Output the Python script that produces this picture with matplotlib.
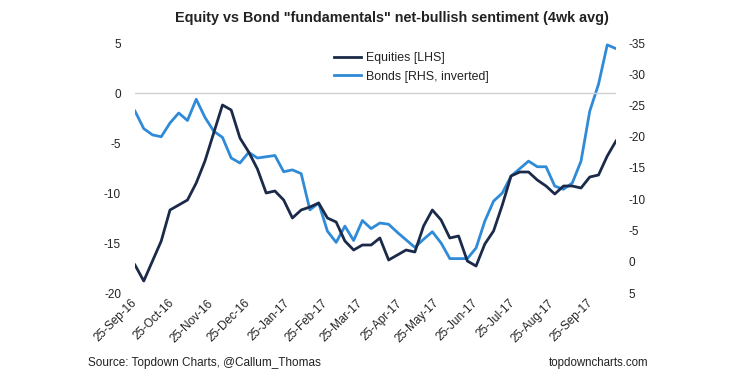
import pandas as pd
import matplotlib.pyplot as plt
import matplotlib.dates as mdates

plt.rcParams['font.family'] = ['Liberation Sans', 'DejaVu Sans']
plt.rcParams['axes.unicode_minus'] = False

# weekly readings, 4wk avg
dates = pd.date_range("2016-09-25", periods=56, freq="7D")

equities = [-17.2, -18.8, -16.8, -14.8, -11.7, -11.2, -10.7, -9.0, -6.8, -4.0,
            -1.2, -1.7, -4.5, -5.9, -7.6, -10.0, -9.8, -10.7, -12.5, -11.7,
            -11.4, -11.0, -12.5, -12.9, -14.8, -15.7, -15.2, -15.2, -14.5, -16.7,
            -16.2, -15.7, -15.9, -13.3, -11.7, -12.7, -14.5, -14.3, -16.8, -17.3,
            -15.1, -13.8, -11.2, -8.3, -7.9, -7.9, -8.7, -9.3, -10.1, -9.3,
            -9.3, -9.5, -8.4, -8.2, -6.3, -4.8]

bonds = [-24.1, -21.3, -20.3, -20.0, -22.2, -23.8, -22.6, -26.0, -23.1, -20.9,
         -19.9, -16.6, -15.8, -17.5, -16.6, -16.8, -17.0, -14.4, -14.7, -14.1,
         -8.3, -9.4, -4.9, -3.1, -5.7, -3.4, -6.6, -5.3, -6.2, -6.0,
         -4.7, -3.5, -2.3, -3.6, -4.8, -3.0, -0.5, -0.5, -0.5, -2.2,
         -6.5, -9.7, -11.0, -13.7, -14.9, -16.1, -15.2, -15.2, -12.1, -11.6,
         -12.6, -16.1, -24.1, -28.4, -34.7, -34.1]

tick_dates = pd.date_range("2016-09-01", "2017-09-01", freq="MS") + pd.Timedelta(days=24)
left_ticks = [-20, -15, -10, -5, 0, 5]
right_ticks = [-35, -30, -25, -20, -15, -10, -5, 0, 5]

navy = "#1a2a48"
blue = "#2f8bd8"
txt = "#222222"

fig = plt.figure(figsize=(7.43, 3.88), dpi=100)
ax = fig.add_axes([135 / 743, 1 - 293 / 388, 481 / 743, 250 / 388])
ax2 = ax.twinx()

ax.axhline(0, color="#d0d0d0", lw=1, zorder=0)
l1, = ax.plot(dates, equities, color=navy, lw=2, label="Equities [LHS]", zorder=3)
l2, = ax2.plot(dates, bonds, color=blue, lw=2, label="Bonds [RHS, inverted]")
ax.set_zorder(ax2.get_zorder() + 1)
ax.patch.set_visible(False)

ax.set_xlim(dates[0], dates[-1])
ax.set_ylim(-20, 5)
ax2.set_ylim(5, -35)

ax.set_yticks(left_ticks)
ax2.set_yticks(right_ticks)
ax.set_xticks(tick_dates)
ax.xaxis.set_major_formatter(mdates.DateFormatter("%d-%b-%y"))

for a in (ax, ax2):
    for s in a.spines.values():
        s.set_visible(False)
    a.tick_params(length=0, labelsize=8.5, colors=txt)
ax.tick_params(axis="y", pad=10)
ax2.tick_params(axis="y", pad=9)
ax.tick_params(axis="x", pad=6)
for lab in ax.get_xticklabels():
    lab.set_rotation(45)
    lab.set_ha("right")
    lab.set_va("center")
    lab.set_rotation_mode("anchor")

fig.legend(handles=[l1, l2], loc="center left", bbox_to_anchor=(334 / 743, 1 - 67.5 / 388),
           frameon=False, fontsize=8.9, handlelength=2.2, handletextpad=0.35,
           labelspacing=0.5, borderpad=0, borderaxespad=0, labelcolor=txt)

fig.text(392 / 743, 1 - 18 / 388, 'Equity vs Bond "fundamentals" net-bullish sentiment (4wk avg)',
         ha="center", va="center", fontsize=10.4, fontweight="bold", color=txt)
fig.text(88 / 743, 1 - 363 / 388, "Source: Topdown Charts, @Callum_Thomas",
         ha="left", va="center", fontsize=8.5, color=txt)
fig.text(648 / 743, 1 - 363 / 388, "topdowncharts.com",
         ha="right", va="center", fontsize=8.3, color=txt)

fig.savefig("out.png", dpi=100)
